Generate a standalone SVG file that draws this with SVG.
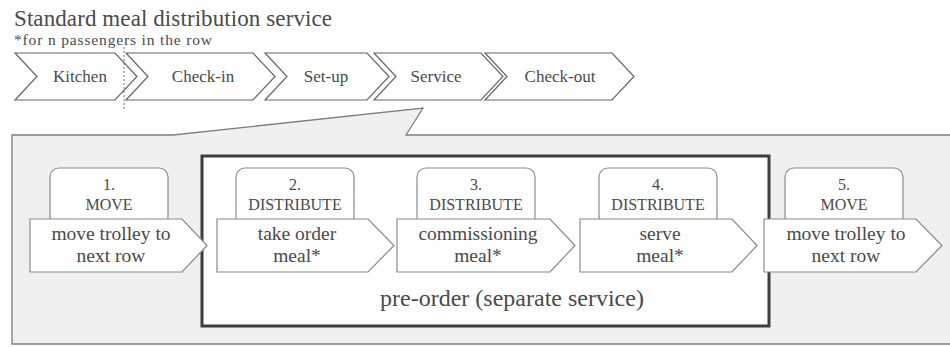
<svg xmlns="http://www.w3.org/2000/svg" width="950" height="347" viewBox="0 0 950 347" font-family="'Liberation Serif', 'DejaVu Serif', serif">
<style>
text{font-family:'Liberation Serif','DejaVu Serif',serif;fill:#4a4a4a}
.chev{fill:#fff;stroke:#666;stroke-width:1.2}
.ct{font-size:17px;text-anchor:middle}
.lbl{fill:#fff;stroke:#858c94;stroke-width:1.2}
.lt{font-size:16px;text-anchor:middle}
.arr{fill:#fff;stroke:#8a8a8a;stroke-width:1.2}
.at{font-size:19.5px;text-anchor:middle}
</style>
<rect width="950" height="347" fill="#fff"/>
<text x="14" y="25.5" font-size="23" textLength="318" lengthAdjust="spacing">Standard meal distribution service</text>
<text x="14" y="44.5" font-size="15.5" textLength="198" lengthAdjust="spacing">*for n passengers in the row</text>

<g id="phase-kitchen"><polygon class="chev" points="15,53 115,53 137,76.5 115,100 15,100 37,76.5"/><text class="ct" x="80" y="82">Kitchen</text></g>
<g id="phase-checkin"><polygon class="chev" points="126,53 253,53 275,76.5 253,100 126,100 148,76.5"/><text class="ct" x="203" y="82">Check-in</text></g>
<g id="phase-setup"><polygon class="chev" points="265,53 367,53 389,76.5 367,100 265,100 287,76.5"/><text class="ct" x="326" y="82">Set-up</text></g>
<g id="phase-service"><polygon class="chev" points="374,53 481,53 503,76.5 481,100 374,100 396,76.5"/><text class="ct" x="436" y="82">Service</text></g>
<g id="phase-checkout"><polygon class="chev" points="485,53 612,53 634,76.5 612,100 485,100 507,76.5"/><text class="ct" x="560" y="82">Check-out</text></g>
<line x1="124" y1="47" x2="124" y2="110" stroke="#777" stroke-width="1" stroke-dasharray="2,2"/>

<g id="callout"><path d="M12,135 L173,135 L423,108 L406,135 L952,135 L952,344 L12,344 Z" fill="#f0f0f0" stroke="#7f7f7f" stroke-width="1.3"/></g>

<g id="preorder"><rect x="202" y="156" width="567" height="170" fill="#fff" stroke="#3c3c3c" stroke-width="3"/>
<text x="512" y="306" font-size="24" text-anchor="middle">pre-order (separate service)</text></g>

<g id="step1"><rect class="lbl" x="50" y="168" width="118" height="58" rx="9"/><text class="lt" x="109" y="190">1.</text><text class="lt" x="109" y="210">MOVE</text>
<polygon class="arr" points="30,219 182,219 207,245.5 182,272 30,272"/><text class="at" x="111" y="240">move trolley to</text><text class="at" x="111" y="262">next row</text></g>
<g id="step2"><rect class="lbl" x="236" y="168" width="118" height="58" rx="9"/><text class="lt" x="295" y="190">2.</text><text class="lt" x="295" y="210">DISTRIBUTE</text>
<polygon class="arr" points="217,219 368,219 394,245.5 368,272 217,272"/><text class="at" x="297" y="240">take order</text><text class="at" x="297" y="262">meal*</text></g>
<g id="step3"><rect class="lbl" x="417" y="168" width="118" height="58" rx="9"/><text class="lt" x="476" y="190">3.</text><text class="lt" x="476" y="210">DISTRIBUTE</text>
<polygon class="arr" points="397,219 550,219 575,245.5 550,272 397,272"/><text class="at" x="478" y="240">commissioning</text><text class="at" x="478" y="262">meal*</text></g>
<g id="step4"><rect class="lbl" x="599" y="168" width="118" height="58" rx="9"/><text class="lt" x="658" y="190">4.</text><text class="lt" x="658" y="210">DISTRIBUTE</text>
<polygon class="arr" points="580,219 732,219 757,245.5 732,272 580,272"/><text class="at" x="660" y="240">serve</text><text class="at" x="660" y="262">meal*</text></g>
<g id="step5"><rect class="lbl" x="785" y="168" width="118" height="58" rx="9"/><text class="lt" x="844" y="190">5.</text><text class="lt" x="844" y="210">MOVE</text>
<polygon class="arr" points="764,219 916,219 942,245.5 916,272 764,272"/><text class="at" x="846" y="240">move trolley to</text><text class="at" x="846" y="262">next row</text></g>
<g id="connectors"></g>
</svg>
